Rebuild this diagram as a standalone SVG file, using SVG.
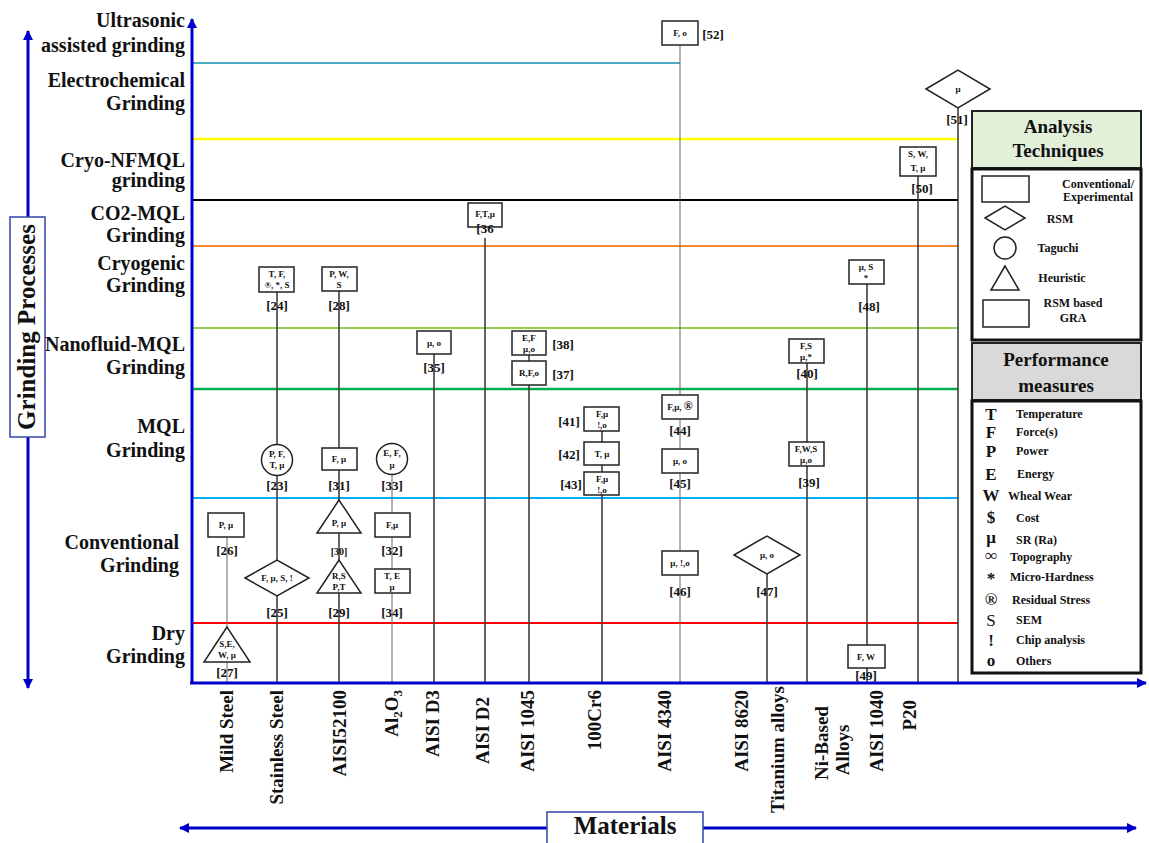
<svg xmlns="http://www.w3.org/2000/svg" width="1149" height="843" viewBox="0 0 1149 843">
<defs>
<marker id="ah" viewBox="0 0 10 10" refX="9" refY="5" markerWidth="3.5" markerHeight="3.5" orient="auto-start-reverse"><path d="M0,0 L10,5 L0,10 z" fill="#0000cc"/></marker>
<style>
text{font-family:"Liberation Serif","Times New Roman",serif;font-weight:bold;fill:#111}
.row{font-size:20px;text-anchor:end}
.mat{font-size:19px;text-anchor:end}
.matm{font-size:19px;text-anchor:middle}
.nt{font-size:9px;text-anchor:middle}
.ref{font-size:13px;text-anchor:middle}
.refs{font-size:10px;text-anchor:middle}
.shape{fill:#fff;stroke:#222;stroke-width:1.5}
.vl{stroke:#333;stroke-width:1.5}
.vg{stroke:#666;stroke-width:1}
.lt{font-size:12px;text-anchor:middle}
.ls{font-size:12px;text-anchor:start}
.sym{font-size:17px;text-anchor:middle}
.hd{font-size:19px;text-anchor:middle}
.lg{fill:none;stroke:#222;stroke-width:1.5}
.axis{stroke:#0000cc;stroke-width:3;fill:none}
</style>
</defs>
<rect width="1149" height="843" fill="#fff"/>

<!-- band lines -->
<g id="bands" stroke-width="2">
<line x1="192" y1="63" x2="680" y2="63" stroke="#4bacc6"/>
<line x1="192" y1="139" x2="958" y2="139" stroke="#ffff00" stroke-width="2.5"/>
<line x1="192" y1="200" x2="958" y2="200" stroke="#000"/>
<line x1="192" y1="246" x2="958" y2="246" stroke="#f4892f"/>
<line x1="192" y1="328" x2="958" y2="328" stroke="#92d050"/>
<line x1="192" y1="389" x2="958" y2="389" stroke="#00b050" stroke-width="2.5"/>
<line x1="192" y1="498" x2="958" y2="498" stroke="#00b0f0"/>
<line x1="192" y1="623" x2="958" y2="623" stroke="#ff0000"/>
</g>

<!-- connectors -->
<g id="connectors">
<line class="vg" x1="227" y1="537" x2="227" y2="683"/>
<line class="vl" x1="277" y1="292" x2="277" y2="683"/>
<line class="vl" x1="339" y1="290" x2="339" y2="683"/>
<line class="vg" x1="392" y1="470" x2="392" y2="683"/>
<line class="vl" x1="434" y1="354" x2="434" y2="683"/>
<line class="vl" x1="485" y1="238" x2="485" y2="683"/>
<line class="vl" x1="529" y1="355" x2="529" y2="683"/>
<line class="vl" x1="602" y1="431" x2="602" y2="683"/>
<line class="vg" x1="680" y1="45" x2="680" y2="683"/>
<line class="vl" x1="767" y1="574" x2="767" y2="683"/>
<line class="vl" x1="807" y1="363" x2="807" y2="683"/>
<line class="vl" x1="867" y1="284" x2="867" y2="683"/>
<line class="vl" x1="918" y1="176" x2="918" y2="683"/>
<line class="vl" x1="958" y1="108" x2="958" y2="683"/>
</g>

<!-- axes -->
<g id="axes">
<line class="axis" x1="192" y1="684" x2="192" y2="19" marker-end="url(#ah)"/>
<line class="axis" x1="190" y1="683" x2="1146" y2="683" marker-end="url(#ah)"/>
<line class="axis" x1="28" y1="31" x2="28" y2="688" stroke-width="2.5" marker-start="url(#ah)" marker-end="url(#ah)"/>
<line class="axis" x1="180" y1="828" x2="1136" y2="828" stroke-width="2.5" marker-start="url(#ah)" marker-end="url(#ah)"/>
</g>

<g id="y-title">
<rect x="10" y="217" width="35" height="220" fill="#fff" stroke="#3344aa" stroke-width="1.5"/>
<text transform="rotate(-90 35 327)" x="35" y="327" style="font-size:25px;text-anchor:middle">Grinding Processes</text>
</g>
<g id="x-title">
<rect x="547" y="812" width="156" height="40" fill="#fff" stroke="#3344aa" stroke-width="1.5"/>
<text x="625" y="834" style="font-size:25px;text-anchor:middle">Materials</text>
</g>

<!-- row labels -->
<g id="rows">
<text class="row" x="185" y="27">Ultrasonic</text>
<text class="row" x="185" y="52">assisted grinding</text>
<text class="row" x="185" y="87">Electrochemical</text>
<text class="row" x="185" y="110">Grinding</text>
<text class="row" x="185" y="167">Cryo-NFMQL</text>
<text class="row" x="185" y="187">grinding</text>
<text class="row" x="185" y="220">CO2-MQL</text>
<text class="row" x="185" y="242">Grinding</text>
<text class="row" x="185" y="270">Cryogenic</text>
<text class="row" x="185" y="292">Grinding</text>
<text class="row" x="185" y="351">Nanofluid-MQL</text>
<text class="row" x="185" y="374">Grinding</text>
<text class="row" x="185" y="433">MQL</text>
<text class="row" x="185" y="457">Grinding</text>
<text class="row" x="179" y="549">Conventional</text>
<text class="row" x="179" y="572">Grinding</text>
<text class="row" x="185" y="640">Dry</text>
<text class="row" x="185" y="663">Grinding</text>
</g>

<!-- material labels -->
<g id="materials">
<text class="mat" transform="rotate(-90 233 690)" x="233" y="690">Mild Steel</text>
<text class="mat" transform="rotate(-90 283 690)" x="283" y="690">Stainless Steel</text>
<text class="mat" transform="rotate(-90 346 690)" x="346" y="690">AISI52100</text>
<text class="mat" transform="rotate(-90 398 690)" x="398" y="690">Al<tspan font-size="13" dy="4">2</tspan><tspan dy="-4">O</tspan><tspan font-size="13" dy="4">3</tspan></text>
<text class="mat" transform="rotate(-90 439 690)" x="439" y="690">AISI D3</text>
<text class="mat" transform="rotate(-90 489 697)" x="489" y="697">AISI D2</text>
<text class="mat" transform="rotate(-90 534 690)" x="534" y="690">AISI 1045</text>
<text class="mat" transform="rotate(-90 601 690)" x="601" y="690">100Cr6</text>
<text class="mat" transform="rotate(-90 671 690)" x="671" y="690">AISI 4340</text>
<text class="mat" transform="rotate(-90 748 690)" x="748" y="690">AISI 8620</text>
<text class="mat" transform="rotate(-90 784 686)" x="784" y="686">Titanium alloys</text>
<text class="matm" transform="rotate(-90 828 743)" x="828" y="743">Ni-Based</text>
<text class="matm" transform="rotate(-90 849 750)" x="849" y="750">Alloys</text>
<text class="mat" transform="rotate(-90 883 690)" x="883" y="690">AISI 1040</text>
<text class="mat" transform="rotate(-90 916 700)" x="916" y="700">P20</text>
</g>

<!-- nodes -->
<g id="n26"><rect class="shape" x="208" y="513" width="36" height="24"/><text class="nt" x="226" y="528">P, μ</text><text class="ref" x="227" y="555">[26]</text></g>
<g id="n27"><polygon class="shape" points="227,627 204,662 250,662"/><text class="nt" x="227" y="647">S,E,</text><text class="nt" x="227" y="658">W, μ</text><text class="ref" x="227" y="677">[27]</text></g>

<g id="n24"><rect class="shape" x="259" y="267" width="35" height="25"/><text class="nt" x="277" y="277">T, F,</text><text class="nt" x="277" y="288">®, *, S</text><text class="ref" x="277" y="310">[24]</text></g>
<g id="n23"><circle class="shape" cx="277" cy="460" r="15.5"/><text class="nt" x="277" y="457">P, F,</text><text class="nt" x="277" y="468">T, μ</text><text class="ref" x="277" y="490">[23]</text></g>
<g id="n25"><polygon class="shape" points="245,578 277,560 309,578 277,596"/><text class="nt" x="277" y="581">F, μ, S, !</text><text class="ref" x="277" y="617">[25]</text></g>

<g id="n28"><rect class="shape" x="322" y="267" width="35" height="24"/><text class="nt" x="339" y="277">P, W,</text><text class="nt" x="339" y="288">S</text><text class="ref" x="339" y="310">[28]</text></g>
<g id="n31"><rect class="shape" x="322" y="448" width="35" height="22"/><text class="nt" x="339" y="462">F, μ</text><text class="ref" x="339" y="490">[31]</text></g>
<g id="n30"><polygon class="shape" points="339,500 317,533 361,533"/><text class="nt" x="339" y="526">P, μ</text><text class="refs" x="339" y="555">[30]</text></g>
<g id="n29"><polygon class="shape" points="339,560 317,593 361,593"/><text class="nt" x="339" y="579">R,S</text><text class="nt" x="339" y="590">P,T</text><text class="ref" x="339" y="617">[29]</text></g>

<g id="n33"><circle class="shape" cx="392" cy="459" r="15.5"/><text class="nt" x="392" y="456">E, F,</text><text class="nt" x="392" y="468">μ</text><text class="ref" x="392" y="490">[33]</text></g>
<g id="n32"><rect class="shape" x="375" y="513" width="35" height="24"/><text class="nt" x="392" y="528">F,μ</text><text class="ref" x="392" y="555">[32]</text></g>
<g id="n34"><rect class="shape" x="375" y="569" width="35" height="24"/><text class="nt" x="392" y="579">T, E</text><text class="nt" x="392" y="590">μ</text><text class="ref" x="392" y="617">[34]</text></g>

<g id="n35"><rect class="shape" x="417" y="331" width="34" height="23"/><text class="nt" x="434" y="346">μ, o</text><text class="ref" x="434" y="372">[35]</text></g>

<g id="n36"><rect class="shape" x="468" y="203" width="34" height="24"/><text class="nt" x="485" y="217">F,T,μ</text><text class="ref" x="485" y="233">[36</text></g>

<g id="n38"><rect class="shape" x="512" y="331" width="34" height="24"/><text class="nt" x="529" y="341">E,F</text><text class="nt" x="529" y="352">μ,o</text><text class="ref" x="563" y="349">[38]</text></g>
<g id="n37"><rect class="shape" x="512" y="361" width="34" height="24"/><text class="nt" x="529" y="376">R,F,o</text><text class="ref" x="563" y="379">[37]</text></g>

<g id="n41"><rect class="shape" x="584" y="407" width="35" height="24"/><text class="nt" x="602" y="417">F,μ</text><text class="nt" x="602" y="428">!,o</text><text class="ref" x="569" y="426">[41]</text></g>
<g id="n42"><rect class="shape" x="584" y="442" width="35" height="23"/><text class="nt" x="602" y="457">T, μ</text><text class="ref" x="569" y="459">[42]</text></g>
<g id="n43"><rect class="shape" x="584" y="472" width="35" height="23"/><text class="nt" x="602" y="482">F,μ</text><text class="nt" x="602" y="493">!,o</text><text class="ref" x="571" y="489">[43]</text></g>

<g id="n52"><rect class="shape" x="662" y="21" width="36" height="24"/><text class="nt" x="680" y="36">F, o</text><text class="ref" x="713" y="39">[52]</text></g>
<g id="n44"><rect class="shape" x="662" y="395" width="36" height="24"/><text class="nt" x="680" y="410">F,μ, <tspan font-size="12">®</tspan></text><text class="ref" x="680" y="435">[44]</text></g>
<g id="n45"><rect class="shape" x="662" y="449" width="36" height="24"/><text class="nt" x="680" y="464">μ, o</text><text class="ref" x="680" y="488">[45]</text></g>
<g id="n46"><rect class="shape" x="662" y="551" width="36" height="24"/><text class="nt" x="680" y="566">μ, !,o</text><text class="ref" x="680" y="596">[46]</text></g>

<g id="n47"><polygon class="shape" points="734,555 767,536 800,555 767,574"/><text class="nt" x="767" y="558">μ, o</text><text class="ref" x="767" y="596">[47]</text></g>

<g id="n40"><rect class="shape" x="789" y="339" width="35" height="24"/><text class="nt" x="806" y="349">F,S</text><text class="nt" x="806" y="360">μ,*</text><text class="ref" x="807" y="378">[40]</text></g>
<g id="n39"><rect class="shape" x="789" y="442" width="35" height="24"/><text class="nt" x="806" y="452">F,W,S</text><text class="nt" x="806" y="463">μ,o</text><text class="ref" x="809" y="487">[39]</text></g>

<g id="n48"><rect class="shape" x="849" y="260" width="35" height="24"/><text class="nt" x="866" y="270">μ, S</text><text class="nt" x="866" y="281">*</text><text class="ref" x="869" y="311">[48]</text></g>
<g id="n49"><rect class="shape" x="848" y="645" width="37" height="23"/><text class="nt" x="866" y="660">F, W</text><text class="ref" x="866" y="680">[49]</text></g>

<g id="n50"><rect class="shape" x="900" y="147" width="36" height="29"/><text class="nt" x="918" y="157">S, W,</text><text class="nt" x="918" y="171" font-size="12">T, μ</text><text class="ref" x="922" y="193">[50]</text></g>

<g id="n51"><polygon class="shape" points="926,89 958,70 990,89 958,108"/><text class="nt" x="958" y="92">μ</text><text class="ref" x="957" y="124">[51]</text></g>

<!-- legend -->
<g id="legend-analysis">
<rect x="972" y="111" width="169" height="57" fill="#e2efd9" stroke="#222" stroke-width="2"/>
<text class="hd" x="1058" y="133">Analysis</text>
<text class="hd" x="1058" y="157">Techniques</text>
<rect x="972" y="169" width="169" height="171" fill="#fff" stroke="#111" stroke-width="3"/>
<rect class="lg" x="982" y="176" width="47" height="26"/>
<text class="lt" x="1098" y="188" font-size="11">Conventional/</text>
<text class="lt" x="1098" y="201" font-size="11">Experimental</text>
<polygon class="lg" points="985,218 1005,206 1025,218 1005,230"/>
<text class="lt" x="1060" y="223">RSM</text>
<circle class="lg" cx="1005" cy="248" r="11"/>
<text class="lt" x="1058" y="252">Taguchi</text>
<polygon class="lg" points="1005,266 991,290 1019,290"/>
<text class="lt" x="1062" y="282">Heuristic</text>
<rect class="lg" x="983" y="300" width="46" height="27"/>
<text class="lt" x="1073" y="307" font-size="11">RSM based</text>
<text class="lt" x="1073" y="322" font-size="11">GRA</text>
</g>
<g id="legend-performance">
<rect x="972" y="343" width="169" height="57" fill="#d9d9d9" stroke="#222" stroke-width="2"/>
<text class="hd" x="1056" y="366" font-size="22">Performance</text>
<text class="hd" x="1056" y="392" font-size="22">measures</text>
<rect x="972" y="401" width="169" height="272" fill="#fff" stroke="#111" stroke-width="3"/>
<text class="sym" x="991" y="420">T</text><text class="ls" x="1016" y="418">Temperature</text>
<text class="sym" x="991" y="438">F</text><text class="ls" x="1016" y="436">Force(s)</text>
<text class="sym" x="991" y="457">P</text><text class="ls" x="1016" y="455">Power</text>
<text class="sym" x="991" y="480">E</text><text class="ls" x="1017" y="478">Energy</text>
<text class="sym" x="991" y="501">W</text><text class="ls" x="1008" y="500">Wheal Wear</text>
<text class="sym" x="991" y="523">$</text><text class="ls" x="1016" y="522">Cost</text>
<text class="sym" x="991" y="543">μ</text><text class="ls" x="1016" y="544">SR (Ra)</text>
<text class="sym" x="991" y="561" font-size="15">∞</text><text class="ls" x="1010" y="561">Topography</text>
<text class="sym" x="991" y="584" font-size="12">*</text><text class="ls" x="1010" y="581">Micro-Hardness</text>
<text class="sym" x="991" y="605" font-size="16">®</text><text class="ls" x="1012" y="604">Residual Stress</text>
<text class="sym" x="991" y="626" style="font-weight:normal">S</text><text class="ls" x="1016" y="624">SEM</text>
<text class="sym" x="991" y="646" font-size="15">!</text><text class="ls" x="1016" y="644">Chip analysis</text>
<text class="sym" x="991" y="666" font-size="14">o</text><text class="ls" x="1016" y="665">Others</text>
</g>
</svg>
